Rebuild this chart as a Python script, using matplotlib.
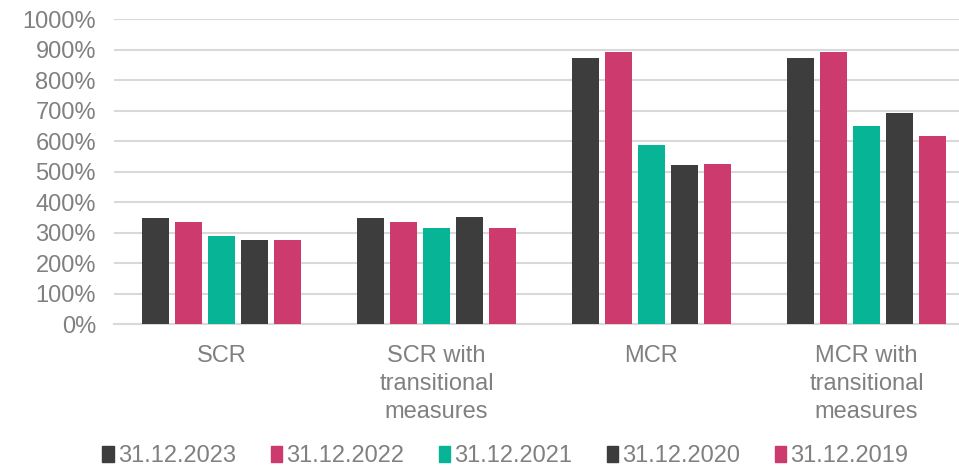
import matplotlib.pyplot as plt
from matplotlib.patches import Patch

# 数据：各类偿付能力比率（%）
categories = ["SCR", "SCR with\ntransitional\nmeasures", "MCR", "MCR with\ntransitional\nmeasures"]
series_names = ["31.12.2023", "31.12.2022", "31.12.2021", "31.12.2020", "31.12.2019"]
v2023 = [348, 348, 874, 874]
v2022 = [335, 335, 894, 894]
v2021 = [289, 315, 587, 650]
v2020 = [276, 352, 523, 693]
v2019 = [276, 317, 524, 617]
values = [v2023, v2022, v2021, v2020, v2019]
colors = ["#3d3d3d", "#cc3a6e", "#07b596", "#3d3d3d", "#cc3a6e"]

plt.rcParams['font.family'] = ['Liberation Sans', 'DejaVu Sans']
grey = "#808080"
fs = 17

fig = plt.figure(figsize=(9.59, 4.70), dpi=100)
ax = fig.add_axes([114 / 959, 145.7 / 470, 860 / 959, 305 / 470])

step = 0.1535
width = 0.121
for j, (name, vals) in enumerate(zip(series_names, values)):
    xs = [i + (j - 2) * step for i in range(len(categories))]
    ax.bar(xs, vals, width=width, color=colors[j], zorder=3, label=name)

ax.set_xlim(-0.5, 3.5)
ax.set_ylim(0, 1000)
ax.set_yticks(range(0, 1001, 100))
ax.set_yticklabels([f"{t}%" for t in range(0, 1001, 100)], fontsize=fs, color=grey)
ax.set_xticks(range(len(categories)))
ax.set_xticklabels(categories, fontsize=fs, color=grey, linespacing=1.35)
ax.tick_params(axis='both', length=0)
ax.tick_params(axis='x', pad=15)
ax.tick_params(axis='y', pad=13)
ax.grid(axis='y', color="#d9d9d9", linewidth=1.5, zorder=0)
for s in ["top", "right", "left"]:
    ax.spines[s].set_visible(False)
ax.spines["bottom"].set_color("#d9d9d9")
ax.spines["bottom"].set_linewidth(1.5)

handles = [Patch(color=c, label=n) for c, n in zip(colors, series_names)]
fig.legend(handles=handles, loc="lower left", bbox_to_anchor=(93 / 959, -0.014), ncol=5,
           frameon=False, fontsize=fs, labelcolor=grey, handlelength=0.5, handleheight=0.7,
           handletextpad=0.15, columnspacing=1.47, borderaxespad=0)

fig.savefig("out.png", dpi=100)
